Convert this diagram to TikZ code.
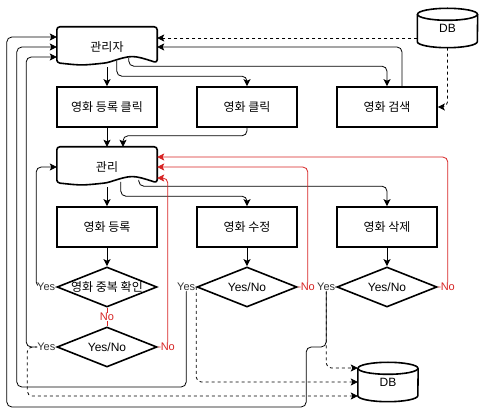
\documentclass[tikz,border=0pt]{standalone}
\usepackage{fontspec}
\usepackage{xcolor}
\usepackage{tikz}
\usetikzlibrary{arrows.meta,calc,shapes.geometric}
\setmainfont{Liberation Sans}
\newfontfamily\kr{Noto Sans CJK KR}
\definecolor{nored}{RGB}{215,35,35}

\tikzset{
  box/.style={draw, line width=1.6pt, minimum width=100pt, minimum height=40pt, inner sep=0pt, font={\kr\fontsize{12}{14}\selectfont}},
  doc/.style={minimum width=100pt, minimum height=40pt, inner sep=0pt, font={\kr\fontsize{12}{14}\selectfont}},
  dec/.style={diamond, draw, line width=1.6pt, minimum width=100pt, minimum height=40pt, inner sep=0pt, font={\fontsize{12}{14}\selectfont}},
  cyl/.style={minimum width=60pt, minimum height=39pt, inner sep=0pt, font={\fontsize{12}{14}\selectfont}},
  arr/.style={-{Stealth[length=7pt,width=7pt,inset=1.5pt]}, line width=0.8pt, rounded corners=5pt},
  darr/.style={arr, dashed},
  rarr/.style={arr, draw=nored},
  lab/.style={fill=white, inner sep=0.5pt, font={\fontsize{11}{13}\selectfont}, text=black!80},
  nolab/.style={lab, text=nored}
}

\newcommand{\docshape}[1]{
  \draw[line width=1.6pt, rounded corners=3pt] ($(#1.north west)+(0,36)$) -- (#1.north west) -- (#1.north east) -- ($(#1.north east)+(0,36)$)
    .. controls ($(#1.north east)+(-25,28)$) .. ($(#1.north)+(0,36)$)
    .. controls ($(#1.north west)+(25,38.7)$) .. cycle;
}
\newcommand{\dbshape}[1]{
  \draw[line width=1.6pt] ($(#1.north west)+(0,6)$) -- ($(#1.south west)+(0,-6)$)
    arc[start angle=180, end angle=360, x radius=30pt, y radius=6pt] -- ($(#1.north east)+(0,6)$);
  \draw[line width=1.6pt] ($(#1.north)+(0,6)$) ellipse [x radius=30pt, y radius=6pt];
}

\begin{document}
\begin{tikzpicture}[x=1pt, y=-1pt]
  \useasboundingbox (0,0) rectangle (483,414);

  \node[doc] (mgr) at (107,47) {관리자};
  \node[cyl] (db1) at (447.5,28) {DB};
  \node[box] (b1) at (107,107) {영화 등록 클릭};
  \node[box] (b2) at (247,107) {영화 클릭};
  \node[box] (b3) at (387,107) {영화 검색};
  \node[doc] (mng) at (107,167) {관리};
  \node[box] (c1) at (107,227) {영화 등록};
  \node[box] (c2) at (247,227) {영화 수정};
  \node[box] (c3) at (387,227) {영화 삭제};
  \node[dec] (d1) at (107,287) {\makebox[0pt]{\kr 영화 중복 확인}};
  \node[dec] (d2) at (247,287) {\makebox[0pt]{Yes/No}};
  \node[dec] (d3) at (387,287) {\makebox[0pt]{Yes/No}};
  \node[dec] (d4) at (107,347) {\makebox[0pt]{Yes/No}};
  \node[cyl] (db2) at (388,382) {DB};
  \docshape{mgr}
  \docshape{mng}
  \dbshape{db1}
  \dbshape{db2}

  \draw[darr] ($(db1.west)+(0,10)$) -- ($(mgr.east)+(0,-9)$);
  \draw[darr] (db1.south) |- (b3.east);
  \draw[darr] (d4.west) -- ++(-29,0) |- ($(db2.west)+(0,14)$);
  \draw[darr] (d2.west) |- (db2.west);
  \draw[darr] (d3.west) -- ++(-10,0) |- ($(db2.west)+(0,-14)$);

  \draw[arr] (mgr.south) -- (b1.north);
  \draw[arr] ($(mgr.north west)+(60,34)$) |- ($(b2.north)+(0,-10)$) -- (b2.north);
  \draw[arr] ($(mgr.north west)+(72,31)$) |- ($(b3.north)+(0,-20)$) -- (b3.north);
  \draw[arr] ($(b3.north)+(15,0)$) |- (mgr.east);
  \draw[arr] (b1.south) -- (mng.north);
  \draw[arr] (b2.south) -- ++(0,8) -| ($(mng.north)+(16,0)$);
  \draw[arr] (mng.south) -- (c1.north);
  \draw[arr] ($(mng.north west)+(64,35)$) |- ($(c2.north)+(0,-10)$) -- (c2.north);
  \draw[arr] ($(mng.north west)+(82,33)$) |- ($(c3.north)+(0,-20)$) -- (c3.north);
  \draw[arr] (c1.south) -- (d1.north);
  \draw[arr] (c2.south) -- (d2.north);
  \draw[arr] (c3.south) -- (d3.north);

  \draw[rarr] (d3.east) -- ++(10,0) node[nolab] {No} |- ($(mng.east)+(0,-10)$);
  \draw[rarr] (d2.east) -- ++(10,0) node[nolab] {No} |- (mng.east);
  \draw[rarr] (d4.east) -- ++(10,0) node[nolab] {No} |- ($(mng.east)+(0,11)$);
  \draw[draw=nored, line width=0.8pt] (d1.south) -- node[nolab] {No} (d4.north);

  \draw[arr] (d1.west) -- node[lab] {Yes} ++(-20,0) |- (mng.west);
  \draw[arr] (d4.west) -- node[lab, pos=0.33] {Yes} ++(-30,0) |- ($(mgr.west)+(0,10)$);
  \draw[arr] (d2.west) -- ++(-10,0) node[lab] {Yes} -- ++(0,100) -| ($(mgr.west)+(-40,0)$) -- (mgr.west);
  \draw[arr] (d3.west) -- ++(-10,0) node[lab] {Yes} -- ++(0,60) -- ++(-20,0) -- ++(0,60) -| ($(mgr.west)+(-50,-10)$) -- ($(mgr.west)+(0,-10)$);
\end{tikzpicture}
\end{document}
